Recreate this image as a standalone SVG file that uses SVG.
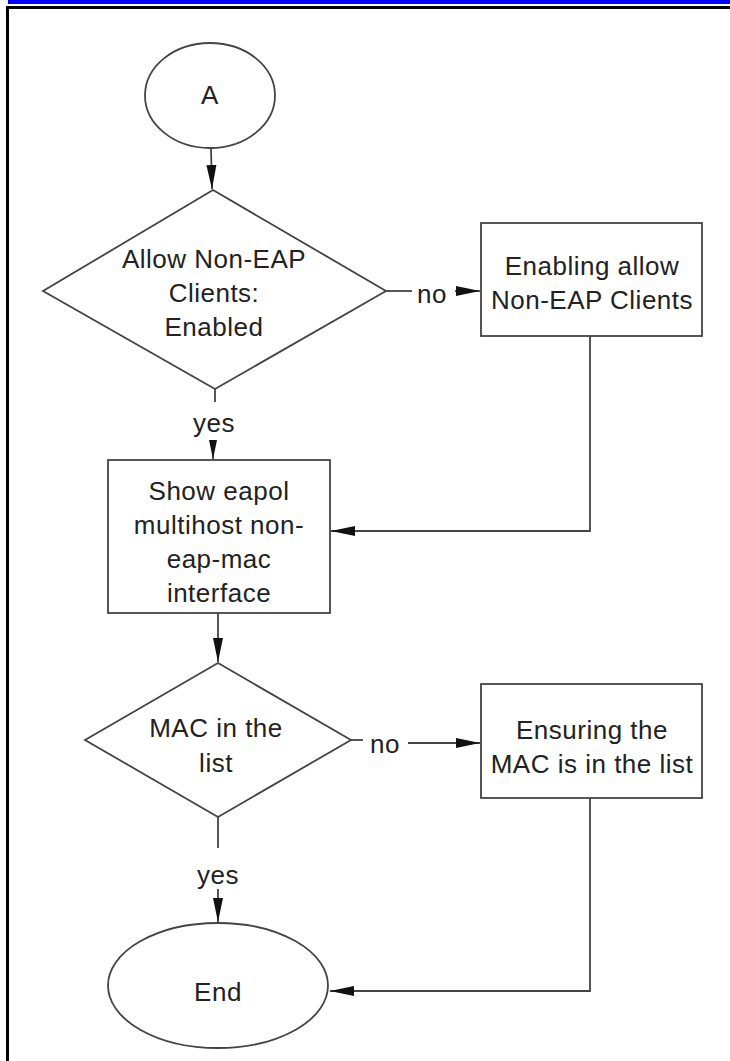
<svg xmlns="http://www.w3.org/2000/svg" width="730" height="1061" viewBox="0 0 730 1061">
<style>
.shape{fill:#fff;stroke:#444;stroke-width:1.8}
.conn{fill:none;stroke:#444;stroke-width:1.8}
.t{font-family:"Liberation Sans",Arial,sans-serif;font-size:26px;letter-spacing:0.5px;fill:#222;text-anchor:middle}
</style>
<defs>
<marker id="arr" markerUnits="userSpaceOnUse" markerWidth="26" markerHeight="12" refX="24" refY="6" orient="auto">
<path d="M0,1 L24,6 L0,11 Z" fill="#111"/>
</marker>
<marker id="arrs" markerUnits="userSpaceOnUse" markerWidth="22" markerHeight="10" refX="19" refY="5" orient="auto">
<path d="M0,1 L19,5 L0,9 Z" fill="#111"/>
</marker>
</defs>
<rect x="0" y="0" width="730" height="1061" fill="#fff"/>
<g id="frame">
<rect x="8" y="0" width="722" height="4" fill="#0000ff"/>
<rect x="6" y="6" width="724" height="3" fill="#000"/>
<rect x="6" y="6" width="3" height="1055" fill="#000"/>
</g>
<g id="connectors">
<path class="conn" d="M211,148 L212,189" marker-end="url(#arr)"/>
<path class="conn" d="M386,291 L412,291"/>
<text class="t" x="432" y="303">no</text>
<path class="conn" d="M455,291 L480,291" marker-end="url(#arr)"/>
<path class="conn" d="M215,389 L215,402"/>
<text class="t" x="214" y="432">yes</text>
<path class="conn" d="M213,440 L213,459" marker-end="url(#arrs)"/>
<path class="conn" d="M590,336 V531 H331" marker-end="url(#arr)"/>
<path class="conn" d="M218,613 L218,662" marker-end="url(#arr)"/>
<path class="conn" d="M351,740 L363,740"/>
<text class="t" x="385" y="753">no</text>
<path class="conn" d="M408,743 L480,743" marker-end="url(#arr)"/>
<path class="conn" d="M218,817 L218,848"/>
<text class="t" x="218" y="884">yes</text>
<path class="conn" d="M218,889 L218,922" marker-end="url(#arr)"/>
<path class="conn" d="M590,798 V991 H330" marker-end="url(#arr)"/>
</g>
<g id="start">
<ellipse class="shape" cx="210" cy="95.5" rx="65" ry="52.5"/>
<text class="t" x="210" y="104">A</text>
</g>
<g id="decision1">
<polygon class="shape" points="213,190 386,291 215,389 43,291"/>
<text class="t" x="214" y="268">Allow Non-EAP</text>
<text class="t" x="214" y="302">Clients:</text>
<text class="t" x="214" y="336">Enabled</text>
</g>
<g id="enable">
<rect class="shape" x="481" y="223" width="221" height="113"/>
<text class="t" x="592" y="275">Enabling allow</text>
<text class="t" x="592" y="309">Non-EAP Clients</text>
</g>
<g id="show">
<rect class="shape" x="108" y="460" width="222" height="153"/>
<text class="t" x="219" y="500">Show eapol</text>
<text class="t" x="219" y="534">multihost non-</text>
<text class="t" x="219" y="568">eap-mac</text>
<text class="t" x="219" y="602">interface</text>
</g>
<g id="decision2">
<polygon class="shape" points="218,663 351,740 218,817 85,740"/>
<text class="t" x="216" y="737">MAC in the</text>
<text class="t" x="216" y="772">list</text>
</g>
<g id="ensure">
<rect class="shape" x="481" y="684" width="221" height="114"/>
<text class="t" x="592" y="739">Ensuring the</text>
<text class="t" x="592" y="773">MAC is in the list</text>
</g>
<g id="end">
<ellipse class="shape" cx="218" cy="985.5" rx="110" ry="62.5"/>
<text class="t" x="218" y="1001">End</text>
</g>
</svg>
